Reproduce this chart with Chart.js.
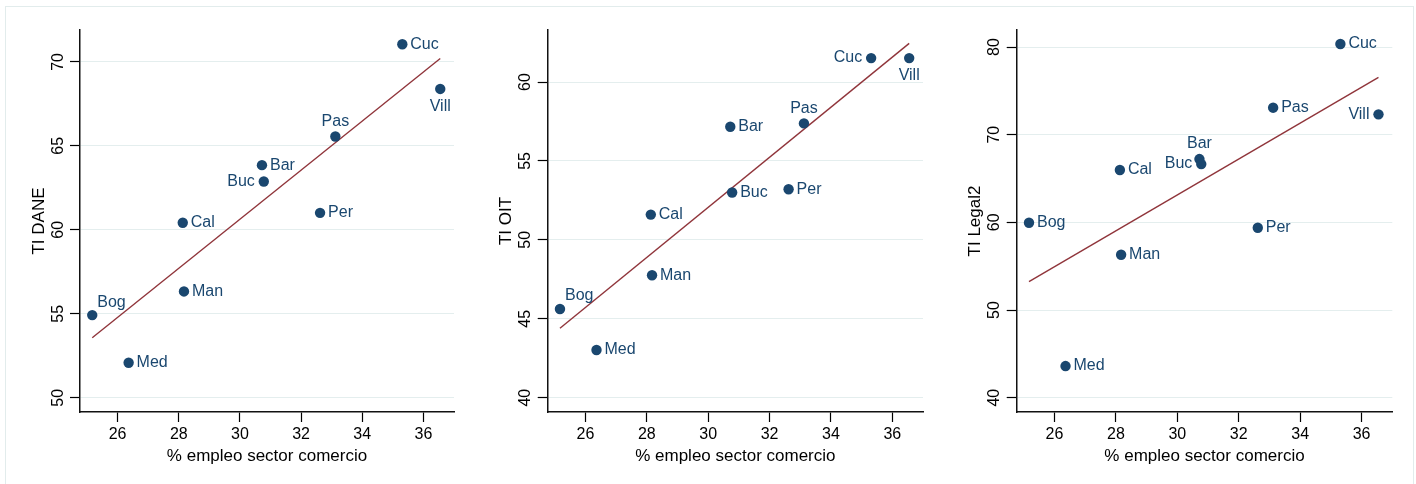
<!DOCTYPE html>
<html>
<head>
<meta charset="utf-8">
<script src="https://cdn.jsdelivr.net/npm/chart.js@4"></script>
<style>
  html, body { margin: 0; padding: 0; background: #fff; }
  body { width: 1416px; height: 484px; position: relative; overflow: hidden; }
  .frame { position: absolute; left: 5px; top: 6px; width: 1407px; height: 490px; border: 1px solid #e2ecec; }
  .panel { position: absolute; top: 0; height: 484px; }
</style>
</head>
<body>
<div class="frame"></div>
<div class="panel" style="left:0;width:470px"><canvas id="c1"></canvas></div>
<div class="panel" style="left:470px;width:470px"><canvas id="c2"></canvas></div>
<div class="panel" style="left:940px;width:476px"><canvas id="c3"></canvas></div>
<script>
// ── data ──
const cities  = ['Bog', 'Med', 'Cal', 'Man', 'Bar', 'Buc', 'Per', 'Pas', 'Cuc', 'Vill'];
const pctCom  = [25.17, 26.36, 28.13, 28.17, 30.72, 30.78, 32.62, 33.12, 35.31, 36.55];
const tiDane  = [54.92, 52.08, 60.42, 56.33, 63.85, 62.88, 61.01, 65.56, 71.05, 68.39];
const tiOit   = [45.62, 43.02, 51.60, 47.76, 57.17, 53.00, 53.21, 57.38, 61.52, 61.52];
const tiLegal = [59.96, 43.61, 65.97, 56.31, 67.22, 66.65, 59.39, 73.08, 80.34, 72.32];

// fitted lines: [x0, y0, x1, y1]
const fitDane  = [25.17, 53.57, 36.55, 70.20];
const fitOit   = [25.17, 44.40, 36.55, 62.45];
const fitLegal = [25.17, 53.23, 36.55, 76.54];

const xTicks      = [26, 28, 30, 32, 34, 36];
const yTicksDane  = [50, 55, 60, 65, 70];
const yTicksOit   = [40, 45, 50, 55, 60];
const yTicksLegal = [40, 50, 60, 70, 80];

// label clock positions: r, l, t, b, tr
const posDane  = ['tr', 'r', 'r', 'r', 'r', 'l', 'r', 't', 'r', 'b'];
const posOit   = ['tr', 'r', 'r', 'r', 'r', 'r', 'r', 't', 'l', 'b'];
const posLegal = ['r', 'r', 'r', 'r', 't', 'l', 'r', 'r', 'r', 'l'];

const NAVY   = '#1a476f';
const MAROON = '#90353b';
const FONT   = '"Liberation Sans", Arial, sans-serif';

// ── point labels ──
const pointLabels = {
  id: 'pointLabels',
  afterDatasetsDraw(chart, args, opts) {
    const ctx = chart.ctx;
    const meta = chart.getDatasetMeta(0);
    ctx.save();
    ctx.font = '16px ' + FONT;
    ctx.fillStyle = NAVY;
    ctx.textBaseline = 'middle';
    meta.data.forEach((pt, i) => {
      const p = opts.pos[i];
      let x = pt.x, y = pt.y;
      if (p === 'r')  { ctx.textAlign = 'left';   x += 8; }
      if (p === 'l')  { ctx.textAlign = 'right';  x -= 9; }
      if (p === 't')  { ctx.textAlign = 'center'; y -= 15; }
      if (p === 'b')  { ctx.textAlign = 'center'; y += 18; }
      if (p === 'tr') { ctx.textAlign = 'left';   x += 5; y -= 13; }
      ctx.fillText(cities[i], x, y);
    });
    ctx.restore();
  }
};

function makePanel(id, yVals, fit, yTicks, yMin, yMax, yTitle, pos, layout) {
  new Chart(document.getElementById(id), {
    type: 'scatter',
    data: {
      datasets: [
        {
          data: pctCom.map((x, i) => ({ x, y: yVals[i] })),
          backgroundColor: NAVY,
          borderWidth: 0,
          pointRadius: 5.2,
          order: 1,
        },
        {
          type: 'line',
          data: [{ x: fit[0], y: fit[1] }, { x: fit[2], y: fit[3] }],
          borderColor: MAROON,
          borderWidth: 1.4,
          pointRadius: 0,
          fill: false,
          order: 2,
        },
      ],
    },
    options: {
      responsive: false,
      animation: false,
      events: [],
      layout: { padding: { left: 0, top: 30, right: layout.right, bottom: 0 } },
      plugins: {
        legend: { display: false },
        tooltip: { enabled: false },
        pointLabels: { pos },
      },
      scales: {
        x: {
          type: 'linear',
          min: 24.77, max: 37,
          afterBuildTicks: s => { s.ticks = xTicks.map(v => ({ value: v })); },
          afterFit: s => { s.height = 72; },
          grid: { drawOnChartArea: false, drawTicks: true, tickLength: 10, tickColor: '#000', tickWidth: 1.2 },
          border: { display: true, color: '#111', width: 1.5 },
          ticks: { color: '#000', font: { family: FONT, size: 16 }, padding: 3, maxRotation: 0 },
          title: { display: true, text: '% empleo sector comercio', color: '#000',
                   font: { family: FONT, size: 17 }, padding: { top: 0, bottom: 17 } },
        },
        y: {
          type: 'linear',
          min: yMin, max: yMax,
          afterBuildTicks: s => { s.ticks = yTicks.map(v => ({ value: v })); },
          afterFit: s => { s.width = layout.left; },
          grid: { color: '#e4eeee', lineWidth: 1, drawTicks: true, tickLength: 10, tickColor: '#000', tickWidth: 1.2 },
          border: { display: true, color: '#111', width: 1.5 },
          ticks: { color: '#000', font: { family: FONT, size: 16 }, padding: 3,
                   minRotation: 90, maxRotation: 90, crossAlign: 'center' },
          title: { display: true, text: yTitle, color: '#000',
                   font: { family: FONT, size: 17 }, padding: { top: layout.titlePad, bottom: 0 } },
        },
      },
    },
    plugins: [pointLabels],
  });
}

function sizeCanvas(id, w) {
  const c = document.getElementById(id);
  c.width = w; c.height = 484;
  c.style.width = w + 'px'; c.style.height = '484px';
}
sizeCanvas('c1', 470); sizeCanvas('c2', 470); sizeCanvas('c3', 476);

makePanel('c1', tiDane,  fitDane,  yTicksDane,  49.15, 71.9,  'TI DANE',   posDane,  { left: 80,   right: 16,   titlePad: 29 });
makePanel('c2', tiOit,   fitOit,   yTicksOit,   39.09, 63.3,  'TI OIT',    posOit,   { left: 77.7, right: 17,   titlePad: 26 });
makePanel('c3', tiLegal, fitLegal, yTicksLegal, 38.37, 81.94, 'TI Legal2', posLegal, { left: 76.7, right: 23.7, titlePad: 25 });
</script>
</body>
</html>
